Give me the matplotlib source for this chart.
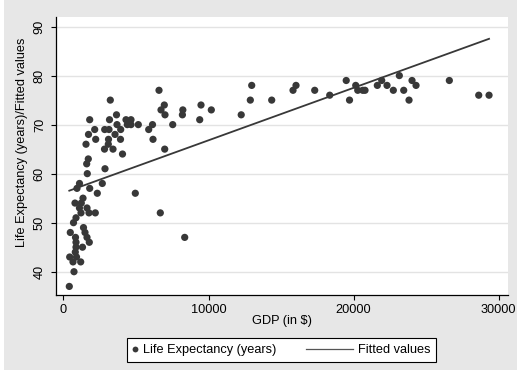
import matplotlib
matplotlib.use("Agg")
import matplotlib.pyplot as plt
from matplotlib.lines import Line2D
from matplotlib.patches import Rectangle
from matplotlib.legend_handler import HandlerBase, HandlerLine2D

# GDP per head (in $) and life expectancy (years), one entry per country
gdp = [
    6587, 3228, 6952, 6725, 7000, 8230, 8200, 9483, 10194, 9394,
    7532, 1807, 3655, 3173, 4311, 4655, 4400, 4655, 5159, 3690,
    2152, 2842, 3138, 3945, 1724, 2221, 3552, 3104, 3931, 1552,
    3090, 2828, 3414, 4069, 5876, 6138, 6173, 6980,
    1710, 1600, 1641, 2862, 1103, 2676, 1807, 931, 2331, 4952,
    1345, 793, 1228, 1621, 1207, 1759, 2193, 862, 690, 6676,
    469, 1379, 1483, 1621, 1779, 828, 862, 862, 1310, 814,
    428, 897, 655, 1186, 724, 400, 8359, 1100,
    12256, 12884, 12980, 14359, 16035, 15829, 17325, 18360, 19498, 19725,
    20153, 20291, 20636, 20794, 21643, 21946, 22311, 22746, 23160, 23463,
    23829, 24036, 24312, 26609, 28636, 29347,
]
life_exp = [
    77, 75, 74, 73, 72, 73, 72, 74, 73, 71,
    70, 71, 72, 71, 71, 71, 70, 70, 70, 70,
    69, 69, 69, 69, 68, 67, 68, 67, 67, 66,
    66, 65, 65, 64, 69, 70, 67, 65,
    63, 62, 60, 61, 58, 58, 57, 57, 56, 56,
    55, 54, 54, 53, 52, 52, 52, 51, 50, 52,
    48, 49, 48, 47, 46, 47, 46, 45, 45, 44,
    43, 43, 42, 42, 40, 37, 47, 53,
    72, 75, 78, 75, 78, 77, 77, 76, 79, 75,
    78, 77, 77, 77, 78, 79, 78, 77, 80, 77,
    75, 79, 78, 79, 76, 76,
]

# Linear fit of life expectancy on GDP
fit_intercept = 56.1
fit_slope = 0.00107

x_ticks = [0, 10000, 20000, 30000]
y_ticks = [40, 50, 60, 70, 80, 90]

series_label = "Life Expectancy (years)"
fit_label = "Fitted values"
x_title = "GDP (in $)"
y_title = "Life Expectancy (years)/Fitted values"

MARK = "#383838"
BG = "#e7e7e7"
FS = 9.2

plt.rcParams["font.family"] = ["Liberation Sans", "DejaVu Sans"]

fig = plt.figure(figsize=(5.18, 3.71), dpi=100)
fig.patch.set_facecolor("white")
fig.patches.append(Rectangle((4 / 518, 1 / 371), 513 / 518, 370 / 371,
                             transform=fig.transFigure, facecolor=BG,
                             edgecolor="none", zorder=-10))

ax = fig.add_axes([56 / 518, 1 - 295 / 371, 451.5 / 518, 278 / 371])
ax.set_facecolor("white")

ax.scatter(gdp, life_exp, s=27, color=MARK, edgecolors="none", zorder=3)

fit_x = [min(gdp), max(gdp)]
fit_y = [fit_intercept + fit_slope * v for v in fit_x]
ax.plot(fit_x, fit_y, color=MARK, lw=1.3, zorder=4)

ax.set_xlim(-517, 30620)
ax.set_ylim(35.25, 91.95)
ax.set_xticks(x_ticks)
ax.set_xticklabels([str(v) for v in x_ticks])
ax.set_yticks(y_ticks)
ax.set_yticklabels([str(v) for v in y_ticks])

for side in ("top", "right"):
    ax.spines[side].set_visible(False)
for side in ("left", "bottom"):
    ax.spines[side].set_linewidth(0.9)
    ax.spines[side].set_color("black")

ax.tick_params(axis="both", direction="out", length=3.8, width=0.8,
               labelsize=FS, colors="black", pad=2.5)
ax.tick_params(axis="y", labelrotation=90, pad=3.5)
for lbl in ax.get_yticklabels():
    lbl.set_va("center")

ax.yaxis.grid(True, color="#e3e3e3", lw=1.0)
ax.set_axisbelow(True)

ax.set_xlabel(x_title, fontsize=FS)
ax.xaxis.set_label_coords(0.5, -0.072)
fig.text(22 / 518, 1 - 142 / 371, y_title, rotation=90, ha="center",
         va="center", fontsize=FS)


class SideLineHandler(HandlerBase):
    """Draws a legend line that extends to the left of the handle box."""

    def __init__(self, length):
        super().__init__()
        self.length = length

    def create_artists(self, legend, orig_handle, xdescent, ydescent,
                       width, height, fontsize, trans):
        y = (height - ydescent) / 2
        x1 = -xdescent + width
        ln = Line2D([x1 - self.length, x1], [y, y],
                    color=orig_handle.get_color(),
                    lw=orig_handle.get_linewidth())
        ln.set_transform(trans)
        return [ln]


h_pts = Line2D([], [], marker="o", ls="none", color=MARK, markersize=4.2,
               markeredgewidth=0)
h_fit = Line2D([], [], color="#555555", lw=0.9)

leg = fig.legend([h_pts, h_fit], [series_label, fit_label], ncol=2,
                 loc="center", bbox_to_anchor=(281.5 / 518, 1 - 350 / 371),
                 bbox_transform=fig.transFigure, fontsize=FS,
                 handlelength=0.45, handletextpad=0.35, columnspacing=5.6,
                 borderpad=0.45, fancybox=False, framealpha=1,
                 facecolor="white", edgecolor="black",
                 handler_map={h_fit: SideLineHandler(34.0),
                              h_pts: HandlerLine2D(numpoints=1)})
leg.get_frame().set_linewidth(0.8)

fig.savefig("out.png", dpi=100, facecolor=fig.get_facecolor())
